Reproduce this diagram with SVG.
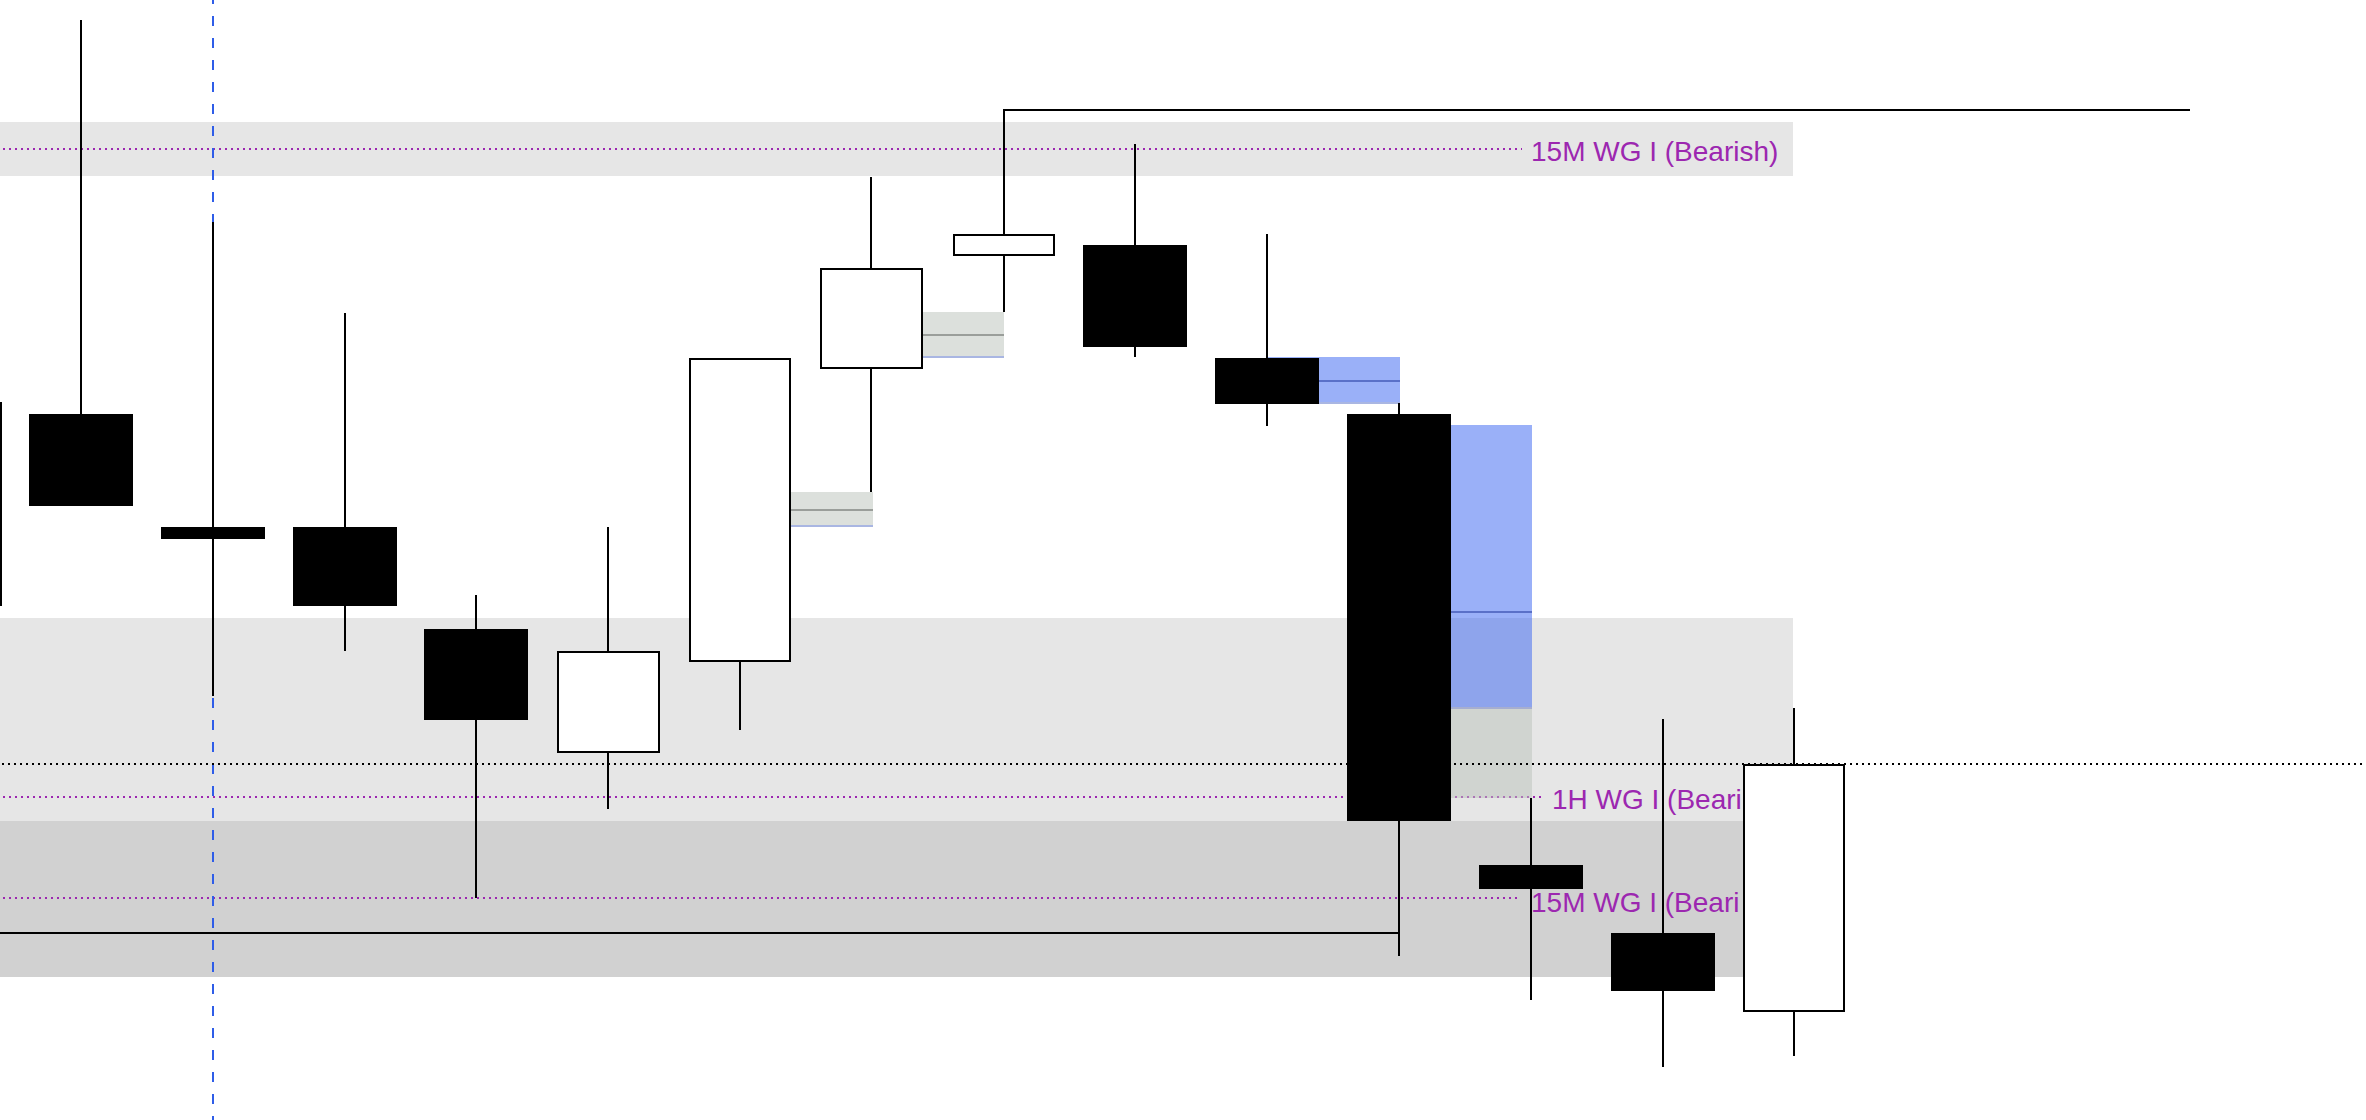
<svg xmlns="http://www.w3.org/2000/svg" width="2366" height="1120" viewBox="0 0 2366 1120">
<style>
.band{fill:#e6e6e6}
.band2{fill:#d1d1d1}
.pdot{stroke:#9c27b0;stroke-width:2;stroke-dasharray:2 4;fill:none}
.kdot{stroke:#000;stroke-width:2;stroke-dasharray:2 4;fill:none}
.vdash{stroke:#2f5de8;stroke-width:2;stroke-dasharray:10 12;stroke-dashoffset:6;fill:none}
.ln{stroke:#000;stroke-width:2;fill:none}
.wick{stroke:#000;stroke-width:2;fill:none}
.bear{fill:#000}
.bull{fill:#fff;stroke:#000;stroke-width:2}
.fvgg{fill:rgba(185,193,185,0.5)}
.fvgb{fill:rgba(53,97,241,0.5)}
.midg{stroke:#9a9e9a;stroke-width:2}
.midb{stroke:#5a70c8;stroke-width:2}
.edgeb{stroke:#a9b6e2;stroke-width:2}
.edgeg{stroke:#a6aed0;stroke-width:2}
.lbl{font-family:"Liberation Sans",Arial,sans-serif;font-size:28px;fill:#9c27b0}
</style>
<rect x="0" y="0" width="2366" height="1120" fill="#ffffff"/>
<g id="zones">
<rect id="zone-15m-top" class="band" x="0" y="122" width="1793" height="54"/>
<rect id="zone-1h" class="band" x="0" y="618" width="1793" height="203"/>
<rect id="zone-15m-low" class="band2" x="0" y="821" width="1793" height="156"/>
</g>
<g id="labels">
<text id="label-top" class="lbl" x="1531" y="161">15M WG I (Bearish)</text>
<text id="label-1h" class="lbl" x="1552" y="809">1H WG I (Beari</text>
<text id="label-15m" class="lbl" x="1531" y="912">15M WG I (Beari</text>
</g>
<g id="connectors">
<line class="pdot" x1="3" y1="149" x2="1522" y2="149"/>
<line class="pdot" x1="3" y1="797" x2="1541" y2="797"/>
<line class="pdot" x1="3" y1="898" x2="1519" y2="898"/>
<line class="vdash" x1="213" y1="0" x2="213" y2="1120"/>
<line class="ln" x1="1004" y1="110" x2="2190" y2="110"/>
<line class="ln" x1="0" y1="933" x2="1399" y2="933"/>
</g>
<g id="fvg1">
<rect class="fvgg" x="791" y="492" width="82" height="35"/>
<line class="midg" x1="791" y1="510" x2="873" y2="510"/>
<line class="edgeb" x1="791" y1="526" x2="873" y2="526"/>
</g>
<g id="fvg2">
<rect class="fvgg" x="923" y="312" width="81" height="46"/>
<line class="midg" x1="923" y1="335" x2="1004" y2="335"/>
<line class="edgeb" x1="923" y1="357" x2="1004" y2="357"/>
</g>
<g id="fvg3">
<rect class="fvgb" x="1267" y="357" width="133" height="46"/>
<line class="midb" x1="1319" y1="381" x2="1400" y2="381"/>
<line class="edgeb" x1="1319" y1="403" x2="1400" y2="403"/>
</g>
<g id="fvg4">
<rect class="fvgb" x="1451" y="425" width="81" height="282"/>
<line class="midb" x1="1451" y1="612" x2="1532" y2="612"/>
<line class="edgeg" x1="1451" y1="708" x2="1532" y2="708"/>
<rect class="fvgg" x="1451" y="709" width="81" height="89"/>
</g>
<g id="level-line">
<line class="kdot" x1="2" y1="764" x2="2366" y2="764"/>
</g>
<g id="candle-0"><line class="wick" x1="1" y1="402" x2="1" y2="606"/></g>
<g id="candle-1"><line class="wick" x1="81" y1="20" x2="81" y2="414"/><rect class="bear" x="29" y="414" width="104" height="92"/></g>
<g id="candle-2"><line class="wick" x1="213" y1="222" x2="213" y2="696"/><rect class="bear" x="161" y="527" width="104" height="12"/></g>
<g id="candle-3"><line class="wick" x1="345" y1="313" x2="345" y2="651"/><rect class="bear" x="293" y="527" width="104" height="79"/></g>
<g id="candle-4"><line class="wick" x1="476" y1="595" x2="476" y2="898"/><rect class="bear" x="424" y="629" width="104" height="91"/></g>
<g id="candle-5"><line class="wick" x1="608" y1="527" x2="608" y2="809"/><rect class="bull" x="558" y="652" width="101" height="100"/></g>
<g id="candle-6"><line class="wick" x1="740" y1="662" x2="740" y2="730"/><rect class="bull" x="690" y="359" width="100" height="302"/></g>
<g id="candle-7"><line class="wick" x1="871" y1="177" x2="871" y2="492"/><rect class="bull" x="821" y="269" width="101" height="99"/></g>
<g id="candle-8"><line class="wick" x1="1004" y1="109" x2="1004" y2="312"/><rect class="bull" x="954" y="235" width="100" height="20"/></g>
<g id="candle-9"><line class="wick" x1="1135" y1="144" x2="1135" y2="357"/><rect class="bear" x="1083" y="245" width="104" height="102"/></g>
<g id="candle-10"><line class="wick" x1="1267" y1="234" x2="1267" y2="426"/><rect class="bear" x="1215" y="358" width="104" height="46"/></g>
<g id="candle-11"><line class="wick" x1="1399" y1="403" x2="1399" y2="956"/><rect class="bear" x="1347" y="414" width="104" height="407"/></g>
<g id="candle-12"><line class="wick" x1="1531" y1="798" x2="1531" y2="1000"/><rect class="bear" x="1479" y="865" width="104" height="24"/></g>
<g id="candle-13"><line class="wick" x1="1663" y1="719" x2="1663" y2="1067"/><rect class="bear" x="1611" y="933" width="104" height="58"/></g>
<g id="candle-14"><line class="wick" x1="1794" y1="708" x2="1794" y2="1056"/><rect class="bull" x="1744" y="765" width="100" height="246"/></g>
</svg>
